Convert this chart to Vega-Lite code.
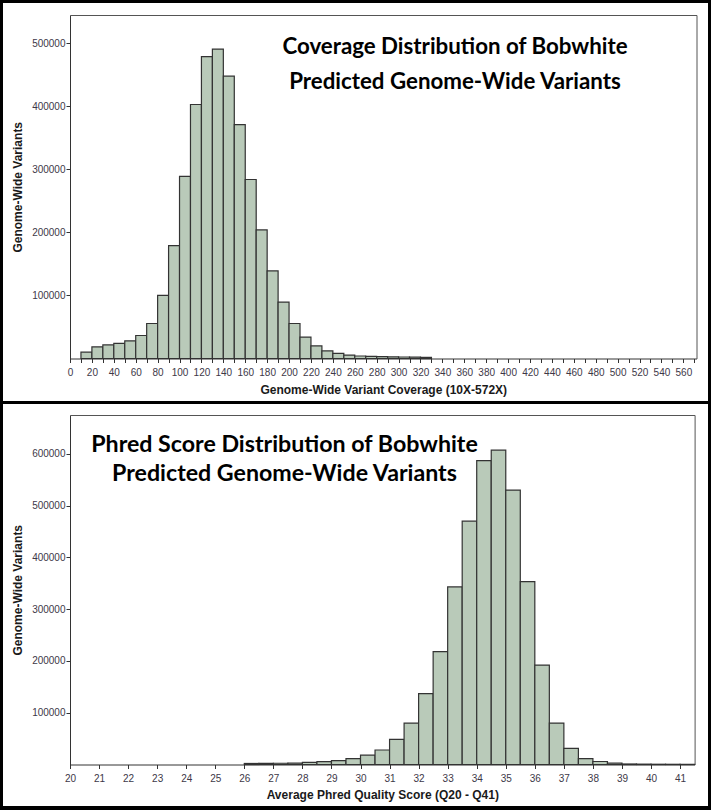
{
  "$schema": "https://vega.github.io/schema/vega-lite/v6.json",
  "background": "black",
  "padding": {"left": 3, "top": 3, "right": 3, "bottom": 4},
  "spacing": 3,
  "config": {
    "view": {"fill": "white", "stroke": null},
    "axis": {"grid": false, "labelFont": "Liberation Sans", "labelFontSize": 10, "labelColor": "#3d3848", "titleFont": "Liberation Sans", "titleFontSize": 12, "titleFontWeight": "bold", "titleColor": "#1a1a1a", "domainColor": "#333333", "tickColor": "#333333", "tickSize": 4, "labelFlush": false, "labelOverlap": false},
    "title": {"font": "Lato", "fontWeight": "bold", "color": "black"}
  },
  "vconcat": [
    {
      "width": 705,
      "height": 398,
      "title": {"text": ["Coverage Distribution of Bobwhite", "Predicted Genome-Wide Variants"], "anchor": "middle", "frame": "group", "baseline": "alphabetic", "offset": -108.4, "dx": 99.5, "fontSize": 22.3, "lineHeight": 35},
      "data": {"values": [
        {"start": 10, "end": 20, "count": 10000},
        {"start": 20, "end": 30, "count": 18500},
        {"start": 30, "end": 40, "count": 21500},
        {"start": 40, "end": 50, "count": 24000},
        {"start": 50, "end": 60, "count": 28000},
        {"start": 60, "end": 70, "count": 36500},
        {"start": 70, "end": 80, "count": 55500},
        {"start": 80, "end": 90, "count": 100000},
        {"start": 90, "end": 100, "count": 179000},
        {"start": 100, "end": 110, "count": 289000},
        {"start": 110, "end": 120, "count": 403000},
        {"start": 120, "end": 130, "count": 479000},
        {"start": 130, "end": 140, "count": 491000},
        {"start": 140, "end": 150, "count": 448000},
        {"start": 150, "end": 160, "count": 371000},
        {"start": 160, "end": 170, "count": 284000},
        {"start": 170, "end": 180, "count": 204000},
        {"start": 180, "end": 190, "count": 139000},
        {"start": 190, "end": 200, "count": 89500},
        {"start": 200, "end": 210, "count": 55500},
        {"start": 210, "end": 220, "count": 34000},
        {"start": 220, "end": 230, "count": 20000},
        {"start": 230, "end": 240, "count": 12000},
        {"start": 240, "end": 250, "count": 8000},
        {"start": 250, "end": 260, "count": 5500},
        {"start": 260, "end": 270, "count": 4000},
        {"start": 270, "end": 280, "count": 3500},
        {"start": 280, "end": 290, "count": 3000},
        {"start": 290, "end": 300, "count": 2700},
        {"start": 300, "end": 310, "count": 2400},
        {"start": 310, "end": 320, "count": 2100},
        {"start": 320, "end": 330, "count": 1800}
      ]},
      "layer": [
        {
          "mark": {"type": "rect", "fill": "#b9cab9", "stroke": "#333333", "strokeWidth": 1.2},
          "encoding": {
            "x": {"field": "start", "type": "quantitative",
              "scale": {"domain": [0, 572], "range": [67, 693.5], "nice": false, "zero": false},
              "axis": {"orient": "bottom", "offset": -42.5, "title": "Genome-Wide Variant Coverage (10X-572X)", "titleY": 26, "labelPadding": 5, "format": "d",
                "values": [0,10,20,30,40,50,60,70,80,90,100,110,120,130,140,150,160,170,180,190,200,210,220,230,240,250,260,270,280,290,300,310,320,330,340,350,360,370,380,390,400,410,420,430,440,450,460,470,480,490,500,510,520,530,540,550,560,570],
                "labelExpr": "datum.value % 20 === 0 ? datum.label : ''"}},
            "x2": {"field": "end"},
            "y": {"field": "count", "type": "quantitative",
              "scale": {"domain": [0, 545000], "range": [355.5, 12], "nice": false, "zero": false},
              "axis": {"orient": "left", "offset": -67, "title": "Genome-Wide Variants", "titleX": -46, "labelPadding": 1, "format": "d",
                "values": [100000, 200000, 300000, 400000, 500000]}},
            "y2": {"datum": 0}
          }
        },
        {
          "mark": {"type": "rect", "opacity": 0},
          "encoding": {
            "x": {"field": "start", "type": "quantitative",
              "scale": {"domain": [0, 572], "range": [67, 693.5], "nice": false, "zero": false},
              "axis": {"orient": "top", "offset": -12, "title": null, "labels": false, "ticks": false, "domainColor": "#555555"}},
            "x2": {"field": "end"},
            "y": {"field": "count", "type": "quantitative",
              "scale": {"domain": [0, 545000], "range": [355.5, 12], "nice": false, "zero": false},
              "axis": {"orient": "right", "offset": -11.5, "title": null, "labels": false, "ticks": false, "domainColor": "#555555"}},
            "y2": {"datum": 0}
          }
        }
      ],
      "resolve": {"axis": {"x": "independent", "y": "independent"}}
    },
    {
      "width": 705,
      "height": 402,
      "title": {"text": ["Phred Score Distribution of Bobwhite", "Predicted Genome-Wide Variants"], "anchor": "middle", "frame": "group", "baseline": "alphabetic", "offset": -100.5, "dx": -71, "fontSize": 23.2, "lineHeight": 29.5},
      "data": {"values": [
        {"start": 26, "end": 26.5, "count": 2000},
        {"start": 26.5, "end": 27, "count": 2200},
        {"start": 27, "end": 27.5, "count": 2400},
        {"start": 27.5, "end": 28, "count": 2700},
        {"start": 28, "end": 28.5, "count": 4000},
        {"start": 28.5, "end": 29, "count": 5500},
        {"start": 29, "end": 29.5, "count": 7500},
        {"start": 29.5, "end": 30, "count": 11500},
        {"start": 30, "end": 30.5, "count": 18000},
        {"start": 30.5, "end": 31, "count": 28000},
        {"start": 31, "end": 31.5, "count": 48500},
        {"start": 31.5, "end": 32, "count": 80000},
        {"start": 32, "end": 32.5, "count": 137000},
        {"start": 32.5, "end": 33, "count": 218000},
        {"start": 33, "end": 33.5, "count": 343000},
        {"start": 33.5, "end": 34, "count": 470000},
        {"start": 34, "end": 34.5, "count": 587000},
        {"start": 34.5, "end": 35, "count": 607000},
        {"start": 35, "end": 35.5, "count": 530000},
        {"start": 35.5, "end": 36, "count": 353000},
        {"start": 36, "end": 36.5, "count": 192000},
        {"start": 36.5, "end": 37, "count": 80000},
        {"start": 37, "end": 37.5, "count": 31000},
        {"start": 37.5, "end": 38, "count": 11500},
        {"start": 38, "end": 38.5, "count": 5800},
        {"start": 38.5, "end": 39, "count": 2600},
        {"start": 39, "end": 39.5, "count": 1000},
        {"start": 39.5, "end": 40, "count": 700},
        {"start": 40, "end": 40.5, "count": 500},
        {"start": 40.5, "end": 41, "count": 400},
        {"start": 41, "end": 41.5, "count": 300}
      ]},
      "layer": [
        {
          "mark": {"type": "rect", "fill": "#b9cab9", "stroke": "#333333", "strokeWidth": 1.2},
          "encoding": {
            "x": {"field": "start", "type": "quantitative",
              "scale": {"domain": [20, 41.5], "range": [67, 691.6], "nice": false, "zero": false},
              "axis": {"orient": "bottom", "offset": -41.5, "title": "Average Phred Quality Score (Q20 - Q41)", "titleY": 25, "labelPadding": 5, "format": "d",
                "values": [20,20.5,21,21.5,22,22.5,23,23.5,24,24.5,25,25.5,26,26.5,27,27.5,28,28.5,29,29.5,30,30.5,31,31.5,32,32.5,33,33.5,34,34.5,35,35.5,36,36.5,37,37.5,38,38.5,39,39.5,40,40.5,41],
                "labelExpr": "datum.value % 1 === 0 ? datum.label : ''"}},
            "x2": {"field": "end"},
            "y": {"field": "count", "type": "quantitative",
              "scale": {"domain": [0, 675000], "range": [360.5, 11], "nice": false, "zero": false},
              "axis": {"orient": "left", "offset": -67, "title": "Genome-Wide Variants", "titleX": -46, "labelPadding": 1, "format": "d",
                "values": [100000, 200000, 300000, 400000, 500000, 600000]}},
            "y2": {"datum": 0}
          }
        },
        {
          "mark": {"type": "rect", "opacity": 0},
          "encoding": {
            "x": {"field": "start", "type": "quantitative",
              "scale": {"domain": [20, 41.5], "range": [67, 691.6], "nice": false, "zero": false},
              "axis": {"orient": "top", "offset": -11, "title": null, "labels": false, "ticks": false, "domainColor": "#555555"}},
            "x2": {"field": "end"},
            "y": {"field": "count", "type": "quantitative",
              "scale": {"domain": [0, 675000], "range": [360.5, 11], "nice": false, "zero": false},
              "axis": {"orient": "right", "offset": -13.4, "title": null, "labels": false, "ticks": false, "domainColor": "#555555"}},
            "y2": {"datum": 0}
          }
        }
      ],
      "resolve": {"axis": {"x": "independent", "y": "independent"}}
    }
  ]
}
